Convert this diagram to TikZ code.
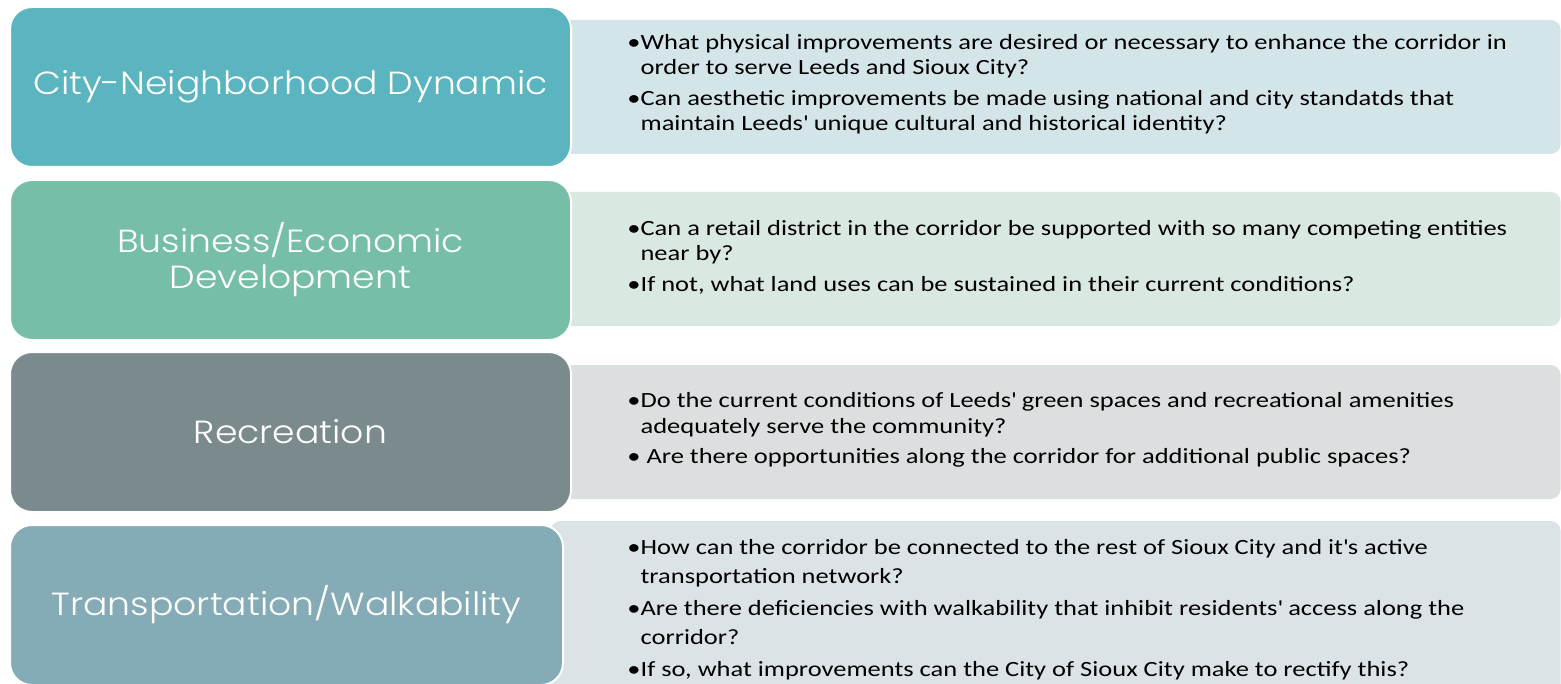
\documentclass[tikz,border=0pt]{standalone}
\usepackage{fontspec}
\setmainfont{Carlito}
\newfontfamily\qfont{Carlito}[FakeStretch=1.22]
\newfontfamily\labfont{Poppins Light}[FakeStretch=1.13]
\usepackage{xcolor}
\usetikzlibrary{positioning}

\definecolor{boxA}{RGB}{90,181,192}
\definecolor{boxB}{RGB}{118,190,167}
\definecolor{boxC}{RGB}{123,139,141}
\definecolor{boxD}{RGB}{133,172,182}
\definecolor{panA}{RGB}{212,229,234}
\definecolor{panB}{RGB}{218,232,226}
\definecolor{panC}{RGB}{220,223,224}
\definecolor{panD}{RGB}{220,227,230}

\newcommand\qin{\phantom{•}}
\newcommand\ap{\textquotesingle}

\begin{document}
\begin{tikzpicture}[x=0.5pt,y=-0.5pt,
    catbox/.style={rectangle,rounded corners=11pt,draw=white,line width=1pt,
        minimum width=280.5pt,minimum height=80pt,align=center,text=white,
        font=\labfont\fontsize{16}{18}\selectfont},
    qpanel/.style={rectangle,rounded corners=5pt,anchor=east,minimum width=505pt},
    qtext/.style={anchor=west,inner sep=0pt,align=left,
        font=\qfont\fontsize{10.85}{12.75}\selectfont},
    qloose/.style={font=\qfont\fontsize{10.85}{14.25}\selectfont}]
    \useasboundingbox (0,0) rectangle (1561,684);
    \clip (0,0) rectangle (1561,684);
    % light panels behind the headings
    \foreach \n/\y/\h/\c in {1/87/67pt/panA, 2/259/67pt/panB, 3/432/67pt/panC, 4/617/96pt/panD}
        \node[qpanel,fill=\c,minimum height=\h] (p\n) at (1561,\y) {};
    % headings
    \node[catbox,fill=boxA] (b1) at (290.5,87) {City-Neighborhood Dynamic};
    \node[catbox,fill=boxB] (b2) at (290.5,260) {Business/Economic\\Development};
    \node[catbox,fill=boxC] (b3) at (290.5,432) {Recreation};
    \node[catbox,fill=boxD,minimum width=276.5pt] (b4) at (286.5,605) {Transportation/Walkability};
    % questions
    \node[qtext] (q1) at (627,84) {•What physical improvements are desired or necessary to enhance the corridor in\\
        \qin order to serve Leeds and Sioux City?\\[2.5pt]
        •Can aesthetic improvements be made using national and city standatds that\\
        \qin maintain Leeds\ap{} unique cultural and historical identity?};
    \node[qtext] (q2) at (627,257) {•Can a retail district in the corridor be supported with so many competing entities\\
        \qin near by?\\[2.5pt]
        •If not, what land uses can be sustained in their current conditions?};
    \node[qtext] (q3) at (627,430) {•Do the current conditions of Leeds\ap{} green spaces and recreational amenities\\
        \qin adequately serve the community?\\[2.5pt]
        • Are there opportunities along the corridor for additional public spaces?};
    \node[qtext,qloose] (q4) at (627,610) {•How can the corridor be connected to the rest of Sioux City and it\ap{}s active\\
        \qin transportation network?\\[2pt]
        •Are there deficiencies with walkability that inhibit residents\ap{} access along the\\
        \qin corridor?\\[2pt]
        •If so, what improvements can the City of Sioux City make to rectify this?};
\end{tikzpicture}
\end{document}
